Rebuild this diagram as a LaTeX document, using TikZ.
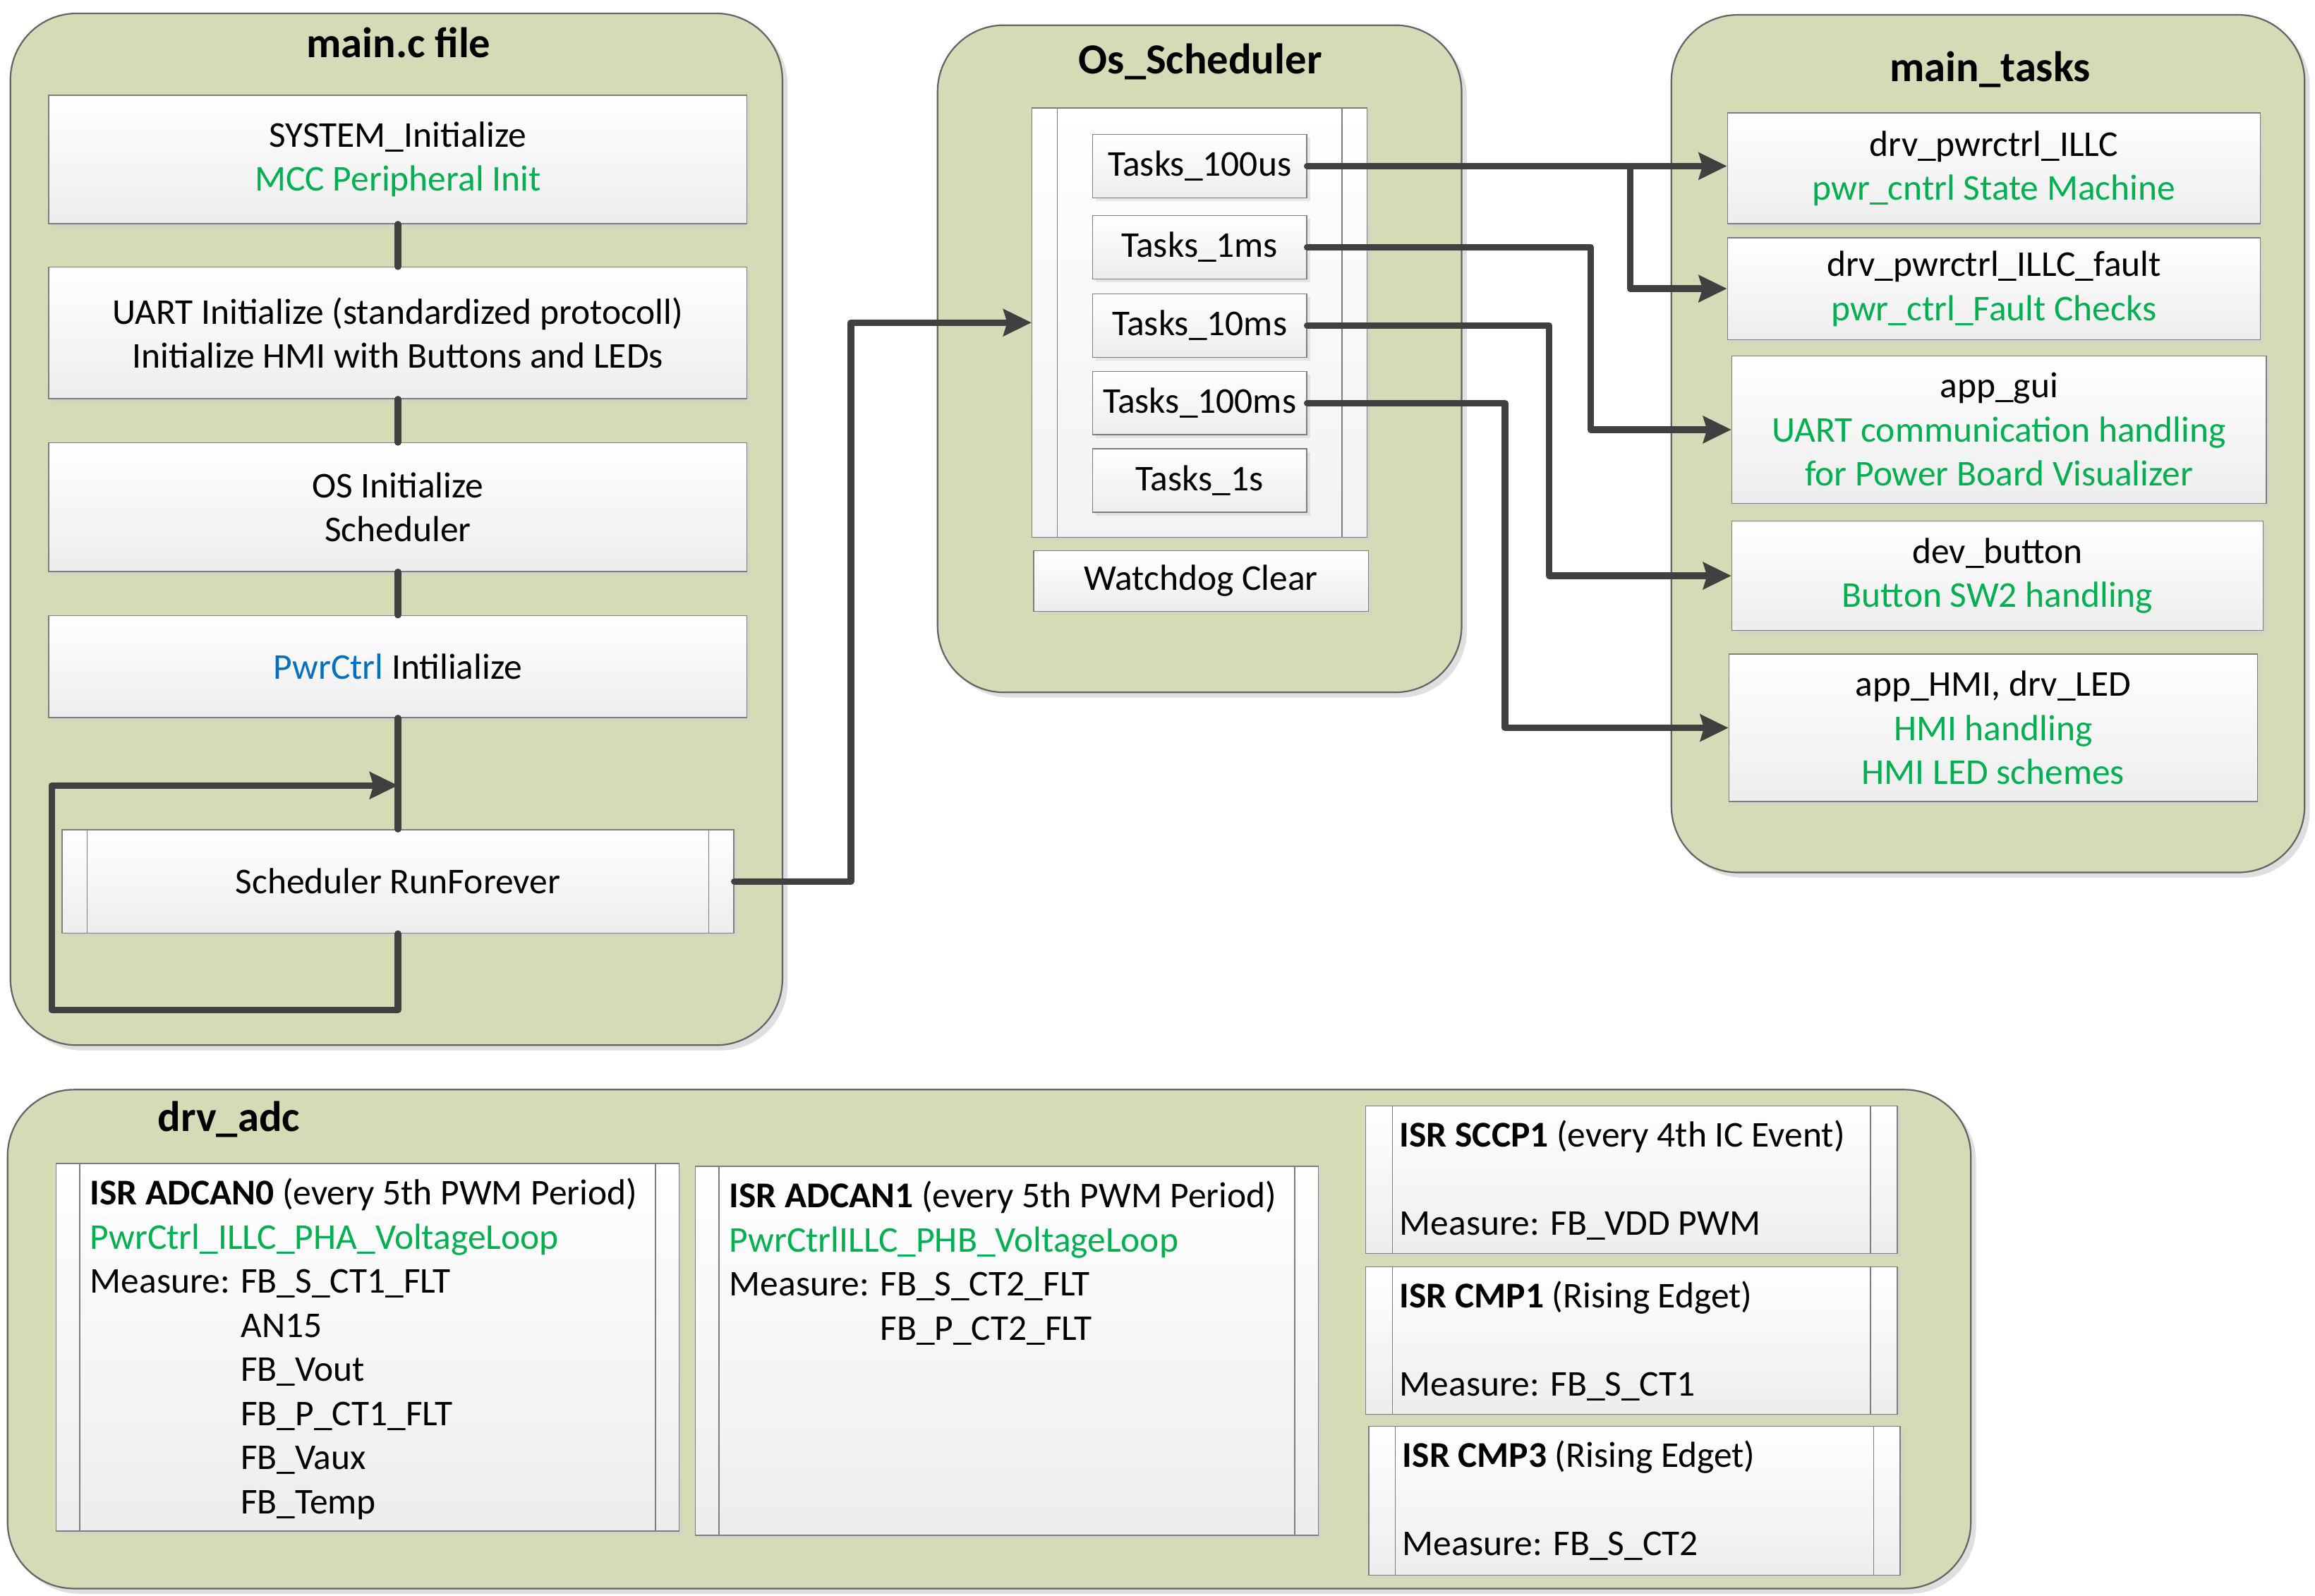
\documentclass[tikz,border=0pt]{standalone}
\usepackage{fontspec}
\setmainfont{Carlito}
\usetikzlibrary{arrows.meta, positioning, shadows}

\definecolor{panelgreen}{RGB}{211,219,183}
\definecolor{panelline}{RGB}{100,100,100}
\definecolor{boxline}{RGB}{125,125,125}
\definecolor{wire}{RGB}{64,64,64}
\definecolor{codegreen}{RGB}{0,176,80}
\definecolor{codeblue}{RGB}{0,112,192}

\newcommand{\gr}[1]{\textcolor{codegreen}{#1}}
\newcommand{\boxfont}{\fontsize{14}{17}\selectfont}
\newcommand{\titlefont}{\fontsize{16.5}{19}\selectfont\bfseries}

\begin{document}
\begin{tikzpicture}[x=0.02cm, y=-0.02cm,
        panel/.style={rectangle, rounded corners=0.9cm, draw=panelline, line width=0.6pt, fill=panelgreen,
            drop shadow={shadow xshift=2pt, shadow yshift=-2pt, fill=black!25}},
        title/.style={font=\titlefont, inner sep=0pt},
        box/.style={rectangle, draw=boxline, line width=0.4pt, top color=white, bottom color=black!7,
            drop shadow={shadow xshift=1.3pt, shadow yshift=-1.3pt, fill=black!18},
            align=center, font=\boxfont, inner sep=0pt},
        procbox/.style={box, path picture={
            \draw[boxline, line width=0.4pt]
                ([xshift=#1]path picture bounding box.north west) -- ([xshift=#1]path picture bounding box.south west)
                ([xshift=-#1]path picture bounding box.north east) -- ([xshift=-#1]path picture bounding box.south east);}},
        procbox/.default=0.34cm,
        isrtext/.style={align=left, font=\boxfont, inner sep=0pt, anchor=north west},
        link/.style={draw=wire, line width=2.5pt, line cap=round, line join=round},
        arrow/.style={link, -{Stealth[length=0.38cm, width=0.36cm, inset=0.05cm]}}
    ]
    \useasboundingbox (0,0) rectangle (1568,1081);

    % containers
    \node[panel, minimum width=10.46cm, minimum height=13.98cm] (mainpanel)  at (268.5,358.5) {};
    \node[panel, minimum width=7.1cm,   minimum height=9.04cm]  (schedpanel) at (812.5,243) {};
    \node[panel, minimum width=8.58cm,  minimum height=11.62cm] (taskpanel)  at (1346.5,300.5) {};
    \node[panel, minimum width=26.6cm,  minimum height=6.76cm]  (adcpanel)   at (670,907) {};

    \node[title] (maintitle)  at (270,29)  {main.c file};
    \node[title] (schedtitle) at (813,42)  {Os\_Scheduler};
    \node[title] (tasktitle)  at (1348,47) {main\_tasks};
    \node[title] (adctitle)   at (155,758) {drv\_adc};

    % main.c flow
    \node[box, minimum width=9.46cm, minimum height=1.74cm] (sysinit)  at (269.5,108) {SYSTEM\_Initialize\\\gr{MCC Peripheral Init}};
    \node[box, minimum width=9.46cm, minimum height=1.78cm] (uartinit) at (269.5,225.5) {UART Initialize (standardized protocoll)\\Initialize HMI with Buttons and LEDs};
    \node[box, minimum width=9.46cm, minimum height=1.74cm] (osinit)   at (269.5,343.5) {OS Initialize\\Scheduler};
    \node[box, minimum width=9.46cm, minimum height=1.38cm] (pwrinit)  at (269.5,451.5) {\textcolor{codeblue}{PwrCtrl} Intilialize};
    \node[procbox, minimum width=9.1cm, minimum height=1.4cm] (runforever) at (269.5,597) {Scheduler RunForever};

    \coordinate (loopbl) at (35,684);
    \coordinate (looptl) at (35,532);
    \coordinate (loopin) at (269.5,532);

    \draw[link] (sysinit) -- (uartinit);
    \draw[link] (uartinit) -- (osinit);
    \draw[link] (osinit) -- (pwrinit);
    \draw[link] (pwrinit) -- (runforever);
    \draw[arrow] (runforever.south) |- (loopbl) -- (looptl) -- (loopin);

    % scheduler
    \node[procbox, minimum width=4.54cm, minimum height=5.82cm, top color=white, bottom color=black!5] (taskframe) at (812.5,218.5) {};
    \node[box, minimum width=2.9cm, minimum height=0.86cm] (t100us) at (812.5,112.5) {Tasks\_100us};
    \node[box, minimum width=2.9cm, minimum height=0.86cm] (t1ms)   at (812.5,167.5) {Tasks\_1ms};
    \node[box, minimum width=2.9cm, minimum height=0.86cm] (t10ms)  at (812.5,220.5) {Tasks\_10ms};
    \node[box, minimum width=2.9cm, minimum height=0.86cm] (t100ms) at (812.5,273)   {Tasks\_100ms};
    \node[box, minimum width=2.9cm, minimum height=0.86cm] (t1s)    at (812.5,325.5) {Tasks\_1s};
    \node[box, minimum width=4.54cm, minimum height=0.82cm] (watchdog) at (813.5,393.5) {Watchdog Clear};

    \draw[arrow] (runforever.east) -- ++(79,0) |- (taskframe.west);

    % main tasks
    \node[box, minimum width=7.22cm, minimum height=1.5cm]  (illc)   at (1350.5,114) {drv\_pwrctrl\_ILLC\\\gr{pwr\_cntrl State Machine}};
    \node[box, minimum width=7.22cm, minimum height=1.38cm] (fault)  at (1350.5,195.5) {drv\_pwrctrl\_ILLC\_fault\\\gr{pwr\_ctrl\_Fault Checks}};
    \node[box, minimum width=7.24cm, minimum height=2.0cm]  (gui)    at (1354,291)     {app\_gui\\\gr{UART communication handling}\\\gr{for Power Board Visualizer}};
    \node[box, minimum width=7.2cm,  minimum height=1.48cm] (button) at (1353,390)     {dev\_button\\\gr{Button SW2 handling}};
    \node[box, minimum width=7.16cm, minimum height=2.0cm]  (hmi)    at (1350,493)     {app\_HMI, drv\_LED\\\gr{HMI handling}\\\gr{HMI LED schemes}};

    \coordinate (split) at (1104,112.5);
    \draw[arrow] (t100us.east) -- (t100us.east -| illc.west);
    \draw[arrow] (split) |- (fault.west);
    \draw[arrow] (t1ms.east) -- ++(192,0) |- (gui.west);
    \draw[arrow] (t10ms.east) -- ++(164,0) |- (button.west);
    \draw[arrow] (t100ms.east) -- ++(134,0) |- (hmi.west);

    % drv_adc interrupts
    \node[procbox=0.32cm, minimum width=8.44cm, minimum height=4.98cm] (adc0) at (249,912.5) {};
    \node[procbox=0.32cm, minimum width=8.44cm, minimum height=5.0cm]  (adc1) at (682,915) {};
    \node[procbox=0.36cm, minimum width=7.2cm,  minimum height=2.0cm]  (sccp) at (1105,799) {};
    \node[procbox=0.36cm, minimum width=7.2cm,  minimum height=2.0cm]  (cmp1) at (1105,908) {};
    \node[procbox=0.36cm, minimum width=7.2cm,  minimum height=2.02cm] (cmp3) at (1107,1016.5) {};

    \node[isrtext] (adc0txt) at ([xshift=0.46cm, yshift=-0.2cm]adc0.north west)
        {\textbf{ISR ADCAN0} (every 5th PWM Period)\\\gr{PwrCtrl\_ILLC\_PHA\_VoltageLoop}\\Measure: FB\_S\_CT1\_FLT\\
         \hphantom{Measure: }AN15\\\hphantom{Measure: }FB\_Vout\\\hphantom{Measure: }FB\_P\_CT1\_FLT\\
         \hphantom{Measure: }FB\_Vaux\\\hphantom{Measure: }FB\_Temp};
    \node[isrtext] (adc1txt) at ([xshift=0.46cm, yshift=-0.2cm]adc1.north west)
        {\textbf{ISR ADCAN1} (every 5th PWM Period)\\\gr{PwrCtrlILLC\_PHB\_VoltageLoop}\\Measure: FB\_S\_CT2\_FLT\\
         \hphantom{Measure: }FB\_P\_CT2\_FLT};
    \node[isrtext] (sccptxt) at ([xshift=0.46cm, yshift=-0.2cm]sccp.north west)
        {\textbf{ISR SCCP1} (every 4th IC Event)\\[0.59cm]Measure: FB\_VDD PWM};
    \node[isrtext] (cmp1txt) at ([xshift=0.46cm, yshift=-0.2cm]cmp1.north west)
        {\textbf{ISR CMP1} (Rising Edget)\\[0.59cm]Measure: FB\_S\_CT1};
    \node[isrtext] (cmp3txt) at ([xshift=0.46cm, yshift=-0.2cm]cmp3.north west)
        {\textbf{ISR CMP3} (Rising Edget)\\[0.59cm]Measure: FB\_S\_CT2};
\end{tikzpicture}
\end{document}
